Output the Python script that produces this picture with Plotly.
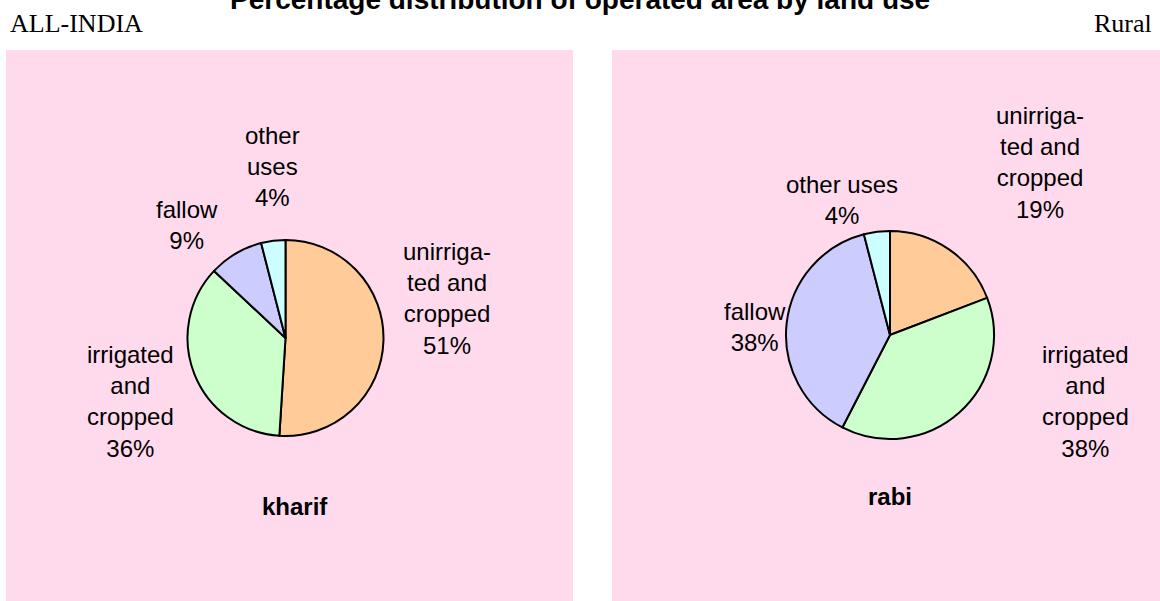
import plotly.graph_objects as go

W, H = 1160, 601

categories = ["unirrigated and cropped", "irrigated and cropped", "fallow", "other uses"]
kharif_values = [51, 36, 9, 4]
rabi_values = [19, 38, 38, 4]
kharif_label_names = ["unirriga-<br>ted and<br>cropped", "irrigated<br>and<br>cropped", "fallow", "other<br>uses"]
rabi_label_names = ["unirriga-<br>ted and<br>cropped", "irrigated<br>and<br>cropped", "fallow", "other uses"]
slice_colors = ["#FFCC99", "#CCFFCC", "#CCCCFF", "#CCFFFF"]

title_text = "Percentage distribution of operated area by land use"
left_header = "ALL-INDIA"
right_header = "Rural"
panel_titles = ["kharif", "rabi"]

# label anchor positions in pixels (layout)
kharif_label_pos = [(447, 298), (130, 401), (187, 225), (272, 166)]
rabi_label_pos = [(1040, 162), (1085, 401), (755, 327), (842, 200)]


def px(x):
    return x / W


def py(y):
    return 1 - y / H


fig = go.Figure()

for vals, (x0, x1, y0, y1) in [
    (kharif_values, (187, 384, 240, 436)),
    (rabi_values, (786, 994, 231, 439)),
]:
    fig.add_trace(go.Pie(
        labels=categories,
        values=vals,
        sort=False,
        direction="clockwise",
        rotation=0,
        marker=dict(colors=slice_colors, line=dict(color="black", width=2)),
        textinfo="none",
        hoverinfo="label+percent",
        showlegend=False,
        domain=dict(x=[px(x0), px(x1)], y=[py(y1), py(y0)]),
    ))

shapes = [
    dict(type="rect", xref="paper", yref="paper", x0=px(6), x1=px(573), y0=0, y1=py(50),
         fillcolor="#FFDAEC", line=dict(width=0), layer="below"),
    dict(type="rect", xref="paper", yref="paper", x0=px(612), x1=1, y0=0, y1=py(50),
         fillcolor="#FFDAEC", line=dict(width=0), layer="below"),
]

lab_font = dict(family="Liberation Sans, Arial, sans-serif", size=24, color="black")
annotations = []
for names, vals, pos in [(kharif_label_names, kharif_values, kharif_label_pos),
                         (rabi_label_names, rabi_values, rabi_label_pos)]:
    for n, v, (x, y) in zip(names, vals, pos):
        annotations.append(dict(text=f"{n}<br>{v}%", x=px(x), y=py(y), xref="paper", yref="paper",
                                xanchor="center", yanchor="middle", showarrow=False, align="center",
                                font=lab_font))

annotations += [
    dict(text=f"<b>{panel_titles[0]}</b>", x=px(295), y=py(506), xref="paper", yref="paper",
         showarrow=False, xanchor="center", yanchor="middle", font=lab_font),
    dict(text=f"<b>{panel_titles[1]}</b>", x=px(890), y=py(496), xref="paper", yref="paper",
         showarrow=False, xanchor="center", yanchor="middle", font=lab_font),
    dict(text=f"<b>{title_text}</b>", x=px(580), y=py(-1), xref="paper", yref="paper",
         showarrow=False, xanchor="center", yanchor="middle",
         font=dict(family="Liberation Sans, Arial, sans-serif", size=28, color="black")),
    dict(text=left_header, x=px(8), y=py(24), xref="paper", yref="paper", showarrow=False,
         xanchor="left", yanchor="middle",
         font=dict(family="Liberation Serif, Times New Roman, serif", size=26, color="black")),
    dict(text=right_header, x=px(1154), y=py(24), xref="paper", yref="paper", showarrow=False,
         xanchor="right", yanchor="middle",
         font=dict(family="Liberation Serif, Times New Roman, serif", size=26, color="black")),
]

fig.update_layout(
    width=W, height=H,
    margin=dict(l=0, r=0, t=0, b=0),
    paper_bgcolor="white",
    plot_bgcolor="white",
    shapes=shapes,
    annotations=annotations,
)

fig.write_html("out.html", config={"displayModeBar": False},
               post_script="document.body.style.margin='0';document.body.style.overflow='hidden';")
